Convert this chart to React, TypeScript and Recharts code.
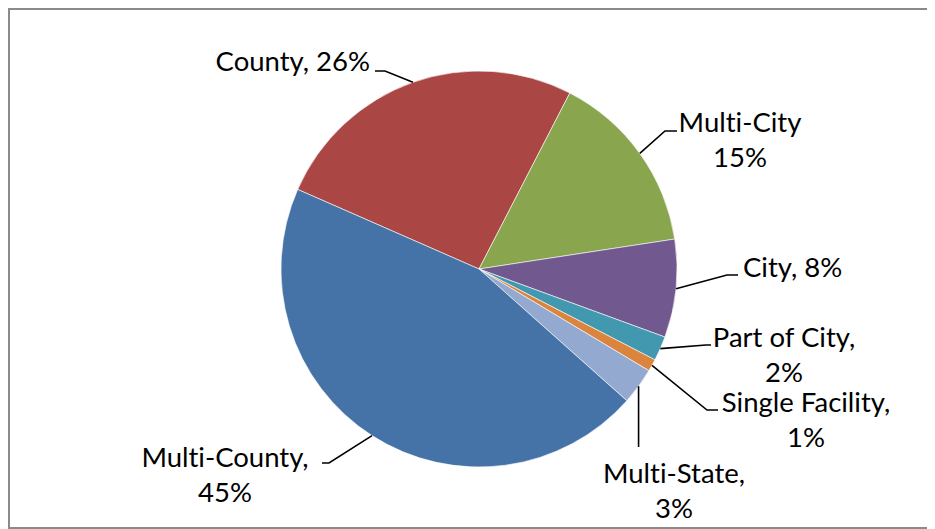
import React from 'react';
import { PieChart, Pie, Cell } from 'recharts';

const categories = ['County', 'Multi-City', 'City', 'Part of City', 'Single Facility', 'Multi-State', 'Multi-County'];
const shares = [26, 15, 8, 2, 1, 3, 45];
const sliceColors = ['#AA4643', '#89A54E', '#71588F', '#4198AF', '#DB843D', '#93A9CF', '#4572A7'];
// text between the name and the percentage ("\n" = new line)
const labelSeparators = [', ', '\n', ', ', ',\n', ',\n', ',\n', ',\n'];

// label placement, offsets relative to the pie centre
type LabelPlace = {
  elbow: [number | null, number];
  end: [number | null, number];
  anchor: 'start' | 'middle' | 'end';
  tx: number;
  ty: number;
};
const labelPlaces: LabelPlace[] = [
  { elbow: [-94, -198], end: [-104, -198], anchor: 'end', tx: -109, ty: -198 },
  { elbow: [186, -138], end: [198, -138], anchor: 'middle', tx: 261, ty: -137 },
  { elbow: [248, 6], end: [259, 6], anchor: 'start', tx: 264, ty: 8 },
  { elbow: [227, 76], end: [232, 76], anchor: 'middle', tx: 305, ty: 78 },
  { elbow: [228, 141], end: [239, 141], anchor: 'middle', tx: 327, ty: 143 },
  { elbow: [null, 178], end: [null, 178], anchor: 'middle', tx: 195, ty: 214 },
  { elbow: [-150, 194], end: [-157, 194], anchor: 'middle', tx: -254, ty: 198 },
];

const FONT = 'Lato, "Open Sans", sans-serif';
const FONT_SIZE = 27.5;
const LINE_GAP = 35;
const RAD = Math.PI / 180;

const data = categories.map((name, i) => ({ name, value: shares[i] }));

function renderLabel(props: any) {
  const { cx, cy, midAngle, outerRadius, index, percent, name } = props;
  const place = labelPlaces[index];
  const ex = cx + Math.cos(-midAngle * RAD) * outerRadius;
  const ey = cy + Math.sin(-midAngle * RAD) * outerRadius;
  const bx = place.elbow[0] === null ? ex : cx + place.elbow[0];
  const by = cy + place.elbow[1];
  const fx = place.end[0] === null ? ex : cx + place.end[0];
  const fy = cy + place.end[1];
  const pct = `${Math.round(percent * 100)}%`;
  const full = `${name}${labelSeparators[index]}${pct}`;
  const lines = full.split('\n');
  const tx = cx + place.tx;
  const ty = cy + place.ty;
  return (
    <g key={`lbl-${index}`}>
      <polyline
        points={`${ex},${ey} ${bx},${by} ${fx},${fy}`}
        fill="none"
        stroke="#000"
        strokeWidth={1.6}
      />
      <text
        x={tx}
        y={ty}
        textAnchor={place.anchor}
        fontFamily={FONT}
        fontSize={FONT_SIZE}
        fill="#000"
        style={{ fontVariantLigatures: 'none', fontFeatureSettings: '"liga" 0' }}
      >
        {lines.map((ln, i) => (
          <tspan key={i} x={tx} y={ty + i * LINE_GAP}>
            {ln}
          </tspan>
        ))}
      </text>
    </g>
  );
}

export default function App() {
  return (
    <div style={{ position: 'relative', width: 927, height: 521 }}>
      <style>{'html,body{overflow:hidden;}'}</style>
      <div
        style={{
          position: 'absolute',
          left: 0,
          top: 0,
          width: 927,
          height: 521,
          boxSizing: 'border-box',
          borderLeft: '2px solid #8a8a8a',
          borderTop: '2px solid #8a8a8a',
          borderBottom: '2px solid #8a8a8a',
        }}
      />
      <div style={{ position: 'absolute', left: 0, top: 0 }}>
        <PieChart width={927} height={521} margin={{ top: 0, right: 0, bottom: 0, left: 0 }}>
          <Pie
            data={data}
            dataKey="value"
            nameKey="name"
            cx={471}
            cy={261}
            outerRadius={198}
            startAngle={156.3}
            endAngle={-203.7}
            stroke="#ffffff"
            strokeWidth={0.6}
            labelLine={false}
            label={renderLabel}
            isAnimationActive={false}
          >
            {data.map((d, i) => (
              <Cell key={d.name} fill={sliceColors[i]} />
            ))}
          </Pie>
        </PieChart>
      </div>
    </div>
  );
}
